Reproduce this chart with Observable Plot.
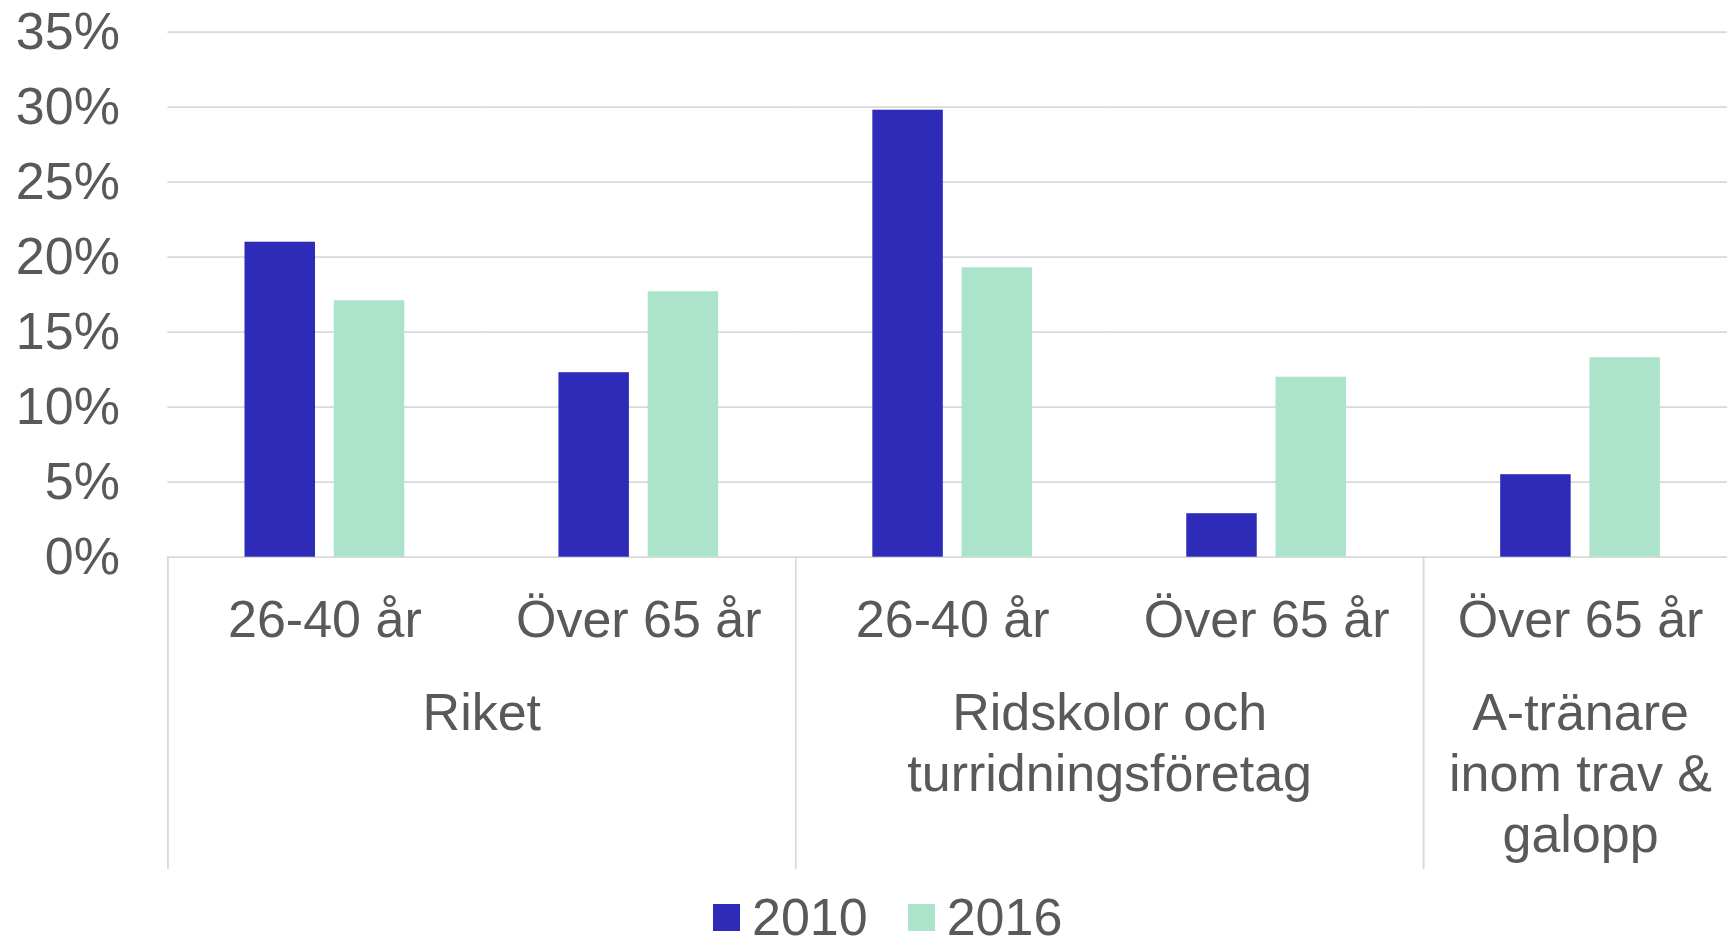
<!DOCTYPE html>
<html><head><meta charset="utf-8">
<script src="https://cdn.jsdelivr.net/npm/d3@7"></script>
<script src="https://cdn.jsdelivr.net/npm/@observablehq/plot@0.6"></script>
<style>
html,body{margin:0;padding:0;background:#fff;overflow:hidden;}
#legend{display:flex;align-items:center;margin-left:713px;margin-top:17px;height:40px;font:52px 'Liberation Sans',Arial,sans-serif;color:#595959;line-height:40px;white-space:nowrap;}
.sw{width:27px;height:27px;display:inline-block;margin-right:12px;}
.item{display:flex;align-items:center;margin-right:40px;}
</style></head><body><div id="chart"></div><div id="legend"></div>
<script>
const years = ["2010", "2016"];
const colors = ["#2f2bb9", "#ace4cb"];
const groups = ["Riket", "Ridskolor och\nturridningsföretag", "A-tränare\ninom trav &\ngalopp"];
const subcats = ["26-40 år", "Över 65 år", "26-40 år", "Över 65 år", "Över 65 år"];
const subGroup = [0, 0, 1, 1, 2];
const values2010 = [21.0, 12.3, 29.8, 2.9, 5.5];
const values2016 = [17.1, 17.7, 19.3, 12.0, 13.3];
const yTicks = [0, 5, 10, 15, 20, 25, 30, 35];

const series = [values2010, values2016];
const keys = subcats.map((s, i) => subGroup[i] + "|" + s);
const rows = keys.flatMap((k, i) => years.map((y, j) => ({key: k, year: y, value: series[j][i]})));
const groupInfo = groups.map((name, g) => {
  const idx = subGroup.map((v, i) => v === g ? i : -1).filter(i => i >= 0);
  return {name, first: keys[idx[0]], span: idx.length};
});

const lineShape = {draw(ctx, l) { ctx.moveTo(0, 0); ctx.lineTo(0, -l); }};
const textColor = "#595959";
const lineColor = "#d9d9d9";

const chart = Plot.plot({
  width: 1737, height: 880,
  marginLeft: 167.4, marginRight: 0, marginTop: 31.7, marginBottom: 323.3,
  style: {fontFamily: "'Liberation Sans', Arial, sans-serif", fontSize: "52px", color: textColor, background: "#fff", maxWidth: "none", overflow: "visible"},
  fx: {domain: keys, paddingInner: 0, paddingOuter: 0, round: false, axis: "bottom", tickSize: 0, tickPadding: 43, tickFormat: k => k.split("|")[1], label: null},
  x: {domain: years, paddingInner: 0.21, paddingOuter: 0.864, round: false, axis: null},
  y: {domain: [0, 35]},
  color: {domain: years, range: colors},
  marks: [
    Plot.gridY(yTicks, {stroke: lineColor, strokeOpacity: 1, strokeWidth: 1.8}),
    Plot.axisY(yTicks, {tickSize: 0, tickPadding: 48, tickFormat: d => d + "%", label: null, fontSize: 52}),
    Plot.barY(rows, {fx: "key", x: "year", y: "value", fill: "year"}),
    Plot.vector(groupInfo, {fx: "first", y: () => 0, frameAnchor: "left", length: 311, rotate: 180, anchor: "start", shape: lineShape, stroke: lineColor, strokeWidth: 1.8}),
    Plot.text(groupInfo.filter(g => g.span === 2), {fx: "first", text: "name", frameAnchor: "bottom-right", textAnchor: "middle", lineAnchor: "top", lineHeight: 1.17, dy: 130, fontSize: 52, fill: textColor}),
    Plot.text(groupInfo.filter(g => g.span === 1), {fx: "first", text: "name", frameAnchor: "bottom", textAnchor: "middle", lineAnchor: "top", lineHeight: 1.17, dy: 130, fontSize: 52, fill: textColor})
  ]
});
document.getElementById("chart").appendChild(chart);

const legend = document.getElementById("legend");
years.forEach((y, i) => {
  const item = document.createElement("div");
  item.className = "item";
  const sw = document.createElement("span");
  sw.className = "sw";
  sw.style.background = colors[i];
  const t = document.createElement("span");
  t.textContent = y;
  item.appendChild(sw);
  item.appendChild(t);
  legend.appendChild(item);
});
</script></body></html>
